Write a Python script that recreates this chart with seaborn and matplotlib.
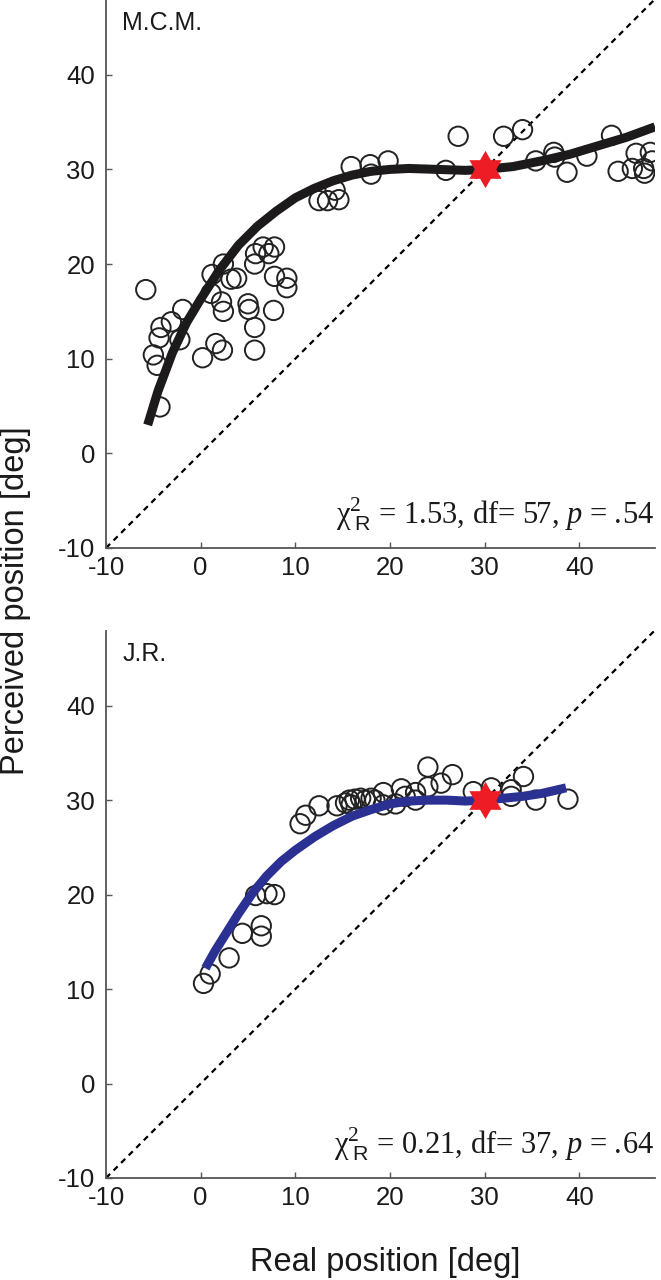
import numpy as np
import matplotlib
matplotlib.use("Agg")
import matplotlib.pyplot as plt
import seaborn as sns

# ---- data ----
# M.C.M. (top panel)
mcm_real = [27.2, 32.0, 34.0, 43.4, 15.9, 17.9, 18.0, 19.8, 25.9, 35.4,
            37.3, 37.4, 38.7, 40.8, 44.1, 46.0, 47.5, 45.6, 46.8, 46.9,
            47.7, 12.5, 13.4, 14.6, 14.2, -5.8, -4.2, -4.4, -3.1, -1.9,
            -2.2, -5.0, -4.6, -4.3, 0.2, 1.6, 2.3, 1.2, 2.4, 3.2,
            3.8, 1.1, 2.2, 2.4, 5.0, 5.1, 5.7, 5.7, 5.8, 5.7,
            6.6, 7.8, 7.2, 7.8, 9.1, 9.1, 7.7]
mcm_perc = [33.5, 33.5, 34.2, 33.6, 30.3, 30.5, 29.5, 30.9, 29.9, 30.9,
            31.8, 31.3, 29.7, 31.4, 29.8, 31.7, 31.8, 30.1, 30.1, 29.6,
            30.9, 26.7, 26.7, 26.8, 27.8, 17.3, 13.3, 12.2, 13.9, 15.2,
            12.0, 10.4, 9.3, 4.9, 10.1, 11.6, 10.9, 18.9, 20.0, 18.4,
            18.5, 16.9, 16.0, 15.0, 15.8, 15.2, 13.3, 10.9, 21.1, 20.0,
            21.8, 21.8, 21.1, 18.7, 18.5, 17.5, 15.1]
mcm_fit_x = [-5.6, -4.5, -3.0, -1.5, 0, 2, 4, 6, 8, 10, 12, 14, 16, 18, 20,
             22, 25, 28, 30, 33, 36, 39, 42, 45, 48]
mcm_fit_y = [3.0, 6.6, 10.6, 13.8, 16.3, 19.4, 22.0, 24.0, 25.6, 27.0, 28.0,
             28.8, 29.4, 29.8, 30.0, 30.1, 30.0, 29.9, 30.0, 30.3, 30.9,
             31.6, 32.5, 33.4, 34.5]

# J.R. (bottom panel)
jr_real = [0.3, 1.0, 3.0, 4.4, 6.4, 6.4, 5.8, 7.0, 7.8, 10.5,
           11.1, 12.5, 14.4, 15.3, 15.7, 16.3, 16.9, 17.4, 18.0, 19.3,
           19.3, 20.6, 21.2, 21.6, 22.7, 22.7, 24.0, 24.0, 25.4, 26.6,
           28.8, 30.7, 32.8, 32.8, 34.1, 35.4, 38.8, 15.9, 18.4]
jr_perc = [10.6, 11.6, 13.3, 15.9, 16.7, 15.6, 19.9, 20.1, 20.0, 27.5,
           28.4, 29.4, 29.4, 29.7, 30.0, 30.1, 30.2, 30.0, 30.2, 30.8,
           29.5, 29.6, 31.2, 30.4, 30.8, 30.0, 33.5, 31.4, 31.8, 32.7,
           30.9, 31.3, 31.1, 30.4, 32.5, 30.0, 30.1, 29.5, 30.0]
jr_fit_x = [0.5, 1.5, 2.5, 4, 5.5, 7, 8.5, 10, 12, 14, 16, 18, 20, 22, 24,
            26, 28, 30, 32, 34, 36, 38.6]
jr_fit_y = [12.2, 14.0, 15.6, 18.0, 20.2, 22.0, 23.5, 24.7, 26.1, 27.3, 28.3,
            29.0, 29.6, 29.9, 30.0, 30.0, 29.9, 30.0, 30.2, 30.4, 30.7, 31.3]

star_x = [30]
star_y = [30]

ticks = [-10, 0, 10, 20, 30, 40]

panels = [
    ("M.C.M.", mcm_real, mcm_perc, mcm_fit_x, mcm_fit_y, "#1c1a1a",
     "1.53", "57", "54"),
    ("J.R.", jr_real, jr_perc, jr_fit_x, jr_fit_y, "#2b3192",
     "0.21", "37", "64"),
]

sns.set_style("ticks")
plt.rcParams["font.family"] = ["Liberation Sans", "DejaVu Sans"]
plt.rcParams["axes.unicode_minus"] = False
plt.rcParams["mathtext.fontset"] = "custom"
plt.rcParams["mathtext.rm"] = "Liberation Serif"
plt.rcParams["mathtext.it"] = "Liberation Serif:italic"
plt.rcParams["mathtext.sf"] = "Liberation Sans"

# six-pointed star marker
ang = np.deg2rad(np.arange(12) * 30 + 90)
rad = np.where(np.arange(12) % 2 == 0, 1.0, 1 / np.sqrt(3))
star_marker = np.column_stack([rad * np.cos(ang), rad * np.sin(ang)])

fig = plt.figure(figsize=(6.61, 12.8), dpi=100)
ax_rects = [[0.1604, 0.5719, 0.8306, 0.4281],
            [0.1604, 0.0797, 0.8306, 0.4273]]

for rect, (name, rx, py, fx, fy, lc, chi, df, pval) in zip(ax_rects, panels):
    ax = fig.add_axes(rect)

    # identity line
    ax.axline((0, 0), slope=1, color="black", lw=1.6, ls=(0, (2.6, 2.2)), zorder=1)

    sns.scatterplot(x=rx, y=py, ax=ax, marker="o", s=195,
                    facecolor="none", edgecolor="#222222", linewidth=1.4,
                    zorder=2)
    sns.lineplot(x=fx, y=fy, ax=ax, sort=False, color=lc, linewidth=6.5,
                 solid_capstyle="butt", zorder=3)
    sns.scatterplot(x=star_x, y=star_y, ax=ax, marker=star_marker, s=720,
                    color="#ee1c25", linewidth=0, zorder=4)

    ax.set_xlim(-10, 48)
    ax.set_ylim(-10, 47.9)
    ax.set_xticks(ticks)
    ax.set_yticks(ticks)
    ax.tick_params(direction="in", length=4, width=1, color="#555555",
                   labelsize=18.5, labelcolor="#1a1a1a")
    ax.tick_params(axis="x", pad=6)
    ax.tick_params(axis="y", pad=8)
    sns.despine(ax=ax)
    for s in ["left", "bottom"]:
        ax.spines[s].set_color("#555555")
        ax.spines[s].set_linewidth(1.3)
    ax.set_xlabel("")
    ax.set_ylabel("")

    ax.text(0.03, 0.958, name, transform=ax.transAxes, fontsize=18,
            ha="left", va="center", color="#1a1a1a")
    stats = (r"$\mathrm{\chi}^2_{\ \mathsf{R}}$ = " + chi + ", df= " + df +
             r", $p$ = $\mathit{.\!" + pval + "}$")
    ax.text(0.998, 0.045, stats, transform=ax.transAxes, fontsize=22,
            family=["Liberation Serif", "DejaVu Serif"], ha="right",
            va="baseline", color="#1a1a1a")

fig.text(0.023, 0.531, "Perceived position [deg]", rotation=90, fontsize=23.5,
         ha="center", va="center", color="#1a1a1a")
fig.text(0.583, 0.0133, "Real position [deg]", fontsize=23.5,
         ha="center", va="center", color="#1a1a1a")

fig.savefig("out.png", dpi=100)
